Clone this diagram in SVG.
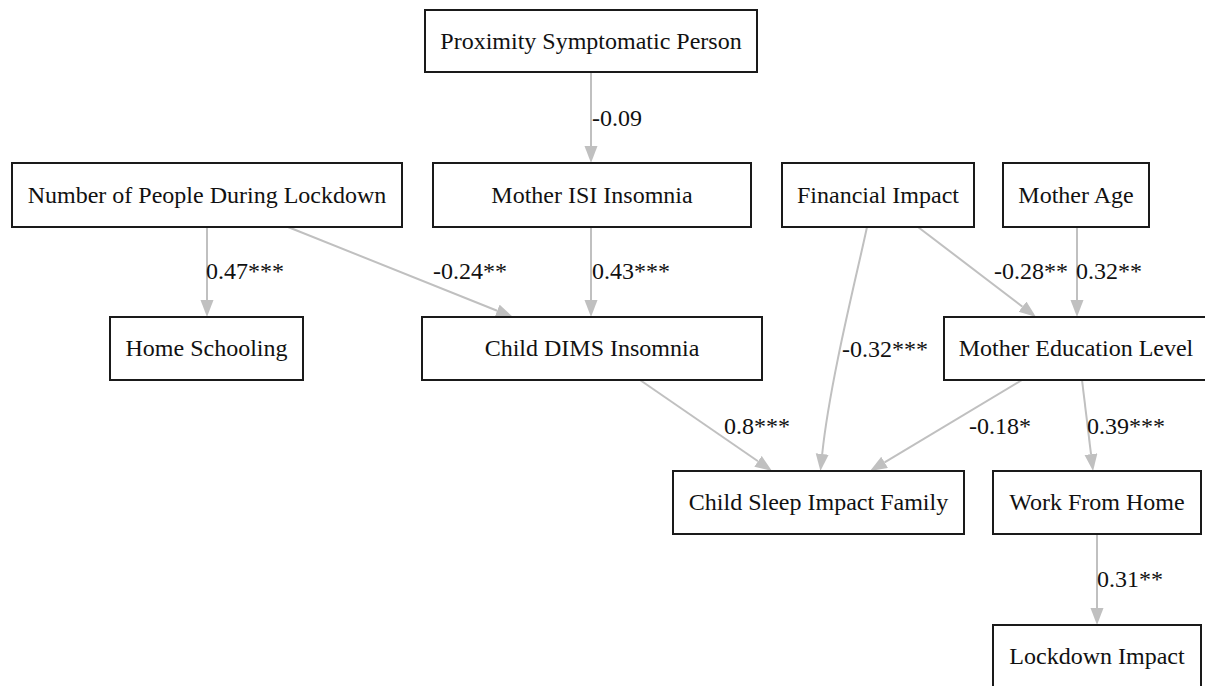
<svg xmlns="http://www.w3.org/2000/svg" width="1205" height="686" viewBox="0 0 1205 686">
<style>
.node rect{fill:#fff;stroke:#1a1a1a;stroke-width:2}
.node text{font-family:"Liberation Serif","Times New Roman",serif;font-size:24px;fill:#111;text-anchor:middle}
.edge{fill:none;stroke:#c0c0c0;stroke-width:2}
.lbl{font-family:"Liberation Serif","Times New Roman",serif;font-size:24px;fill:#111}
</style>
<defs>
<marker id="ah" markerUnits="userSpaceOnUse" markerWidth="18" markerHeight="14" refX="0" refY="6.5" orient="auto">
<path d="M0,0 L17,6.5 L0,13 Z" fill="#c0c0c0"/>
</marker>
</defs>
<rect width="1205" height="686" fill="#fff"/>
<g id="connectors">
<path class="edge" d="M591,72 L591,146" marker-end="url(#ah)"/>
<path class="edge" d="M207,227 L207,300" marker-end="url(#ah)"/>
<path class="edge" d="M288,227 L497.2,310.7" marker-end="url(#ah)"/>
<path class="edge" d="M591,227 L591,300" marker-end="url(#ah)"/>
<path class="edge" d="M918,227 L1022.5,306.7" marker-end="url(#ah)"/>
<path class="edge" d="M1077,227 L1077,300" marker-end="url(#ah)"/>
<path class="edge" d="M867,227 C858,270 830,380 822.2,454" marker-end="url(#ah)"/>
<path class="edge" d="M640,380 L758,461.3" marker-end="url(#ah)"/>
<path class="edge" d="M1022,380 L884.6,462.3" marker-end="url(#ah)"/>
<path class="edge" d="M1082,380 L1091,454.1" marker-end="url(#ah)"/>
<path class="edge" d="M1097,534 L1097,608" marker-end="url(#ah)"/>
<text class="lbl" x="592" y="126">-0.09</text>
<text class="lbl" x="206" y="279">0.47***</text>
<text class="lbl" x="433" y="279">-0.24**</text>
<text class="lbl" x="592" y="279">0.43***</text>
<text class="lbl" x="994" y="279">-0.28**</text>
<text class="lbl" x="1076" y="279">0.32**</text>
<text class="lbl" x="842" y="357">-0.32***</text>
<text class="lbl" x="724" y="434">0.8***</text>
<text class="lbl" x="969" y="434">-0.18*</text>
<text class="lbl" x="1087" y="434">0.39***</text>
<text class="lbl" x="1097" y="587">0.31**</text>
</g>
<g id="proximity" class="node"><rect x="425" y="10" width="332" height="62"/><text x="591" y="49">Proximity Symptomatic Person</text></g>
<g id="isi" class="node"><rect x="433" y="163" width="318" height="64"/><text x="592" y="203">Mother ISI Insomnia</text></g>
<g id="numpeople" class="node"><rect x="12" y="163" width="390" height="64"/><text x="207" y="203">Number of People During Lockdown</text></g>
<g id="financial" class="node"><rect x="782" y="163" width="192" height="64"/><text x="878" y="203">Financial Impact</text></g>
<g id="motherage" class="node"><rect x="1003" y="163" width="146" height="64"/><text x="1076" y="203">Mother Age</text></g>
<g id="homeschool" class="node"><rect x="110" y="317" width="193" height="63"/><text x="206.5" y="356">Home Schooling</text></g>
<g id="childdims" class="node"><rect x="422" y="317" width="340" height="63"/><text x="592" y="356">Child DIMS Insomnia</text></g>
<g id="mothered" class="node"><rect x="944" y="317" width="264" height="63"/><text x="1076" y="356">Mother Education Level</text></g>
<g id="childsleep" class="node"><rect x="673" y="471" width="291" height="63"/><text x="818.5" y="510">Child Sleep Impact Family</text></g>
<g id="wfh" class="node"><rect x="993" y="471" width="208" height="63"/><text x="1097" y="510">Work From Home</text></g>
<g id="lockdown" class="node"><rect x="993" y="625" width="208" height="64"/><text x="1097" y="664">Lockdown Impact</text></g>
</svg>
